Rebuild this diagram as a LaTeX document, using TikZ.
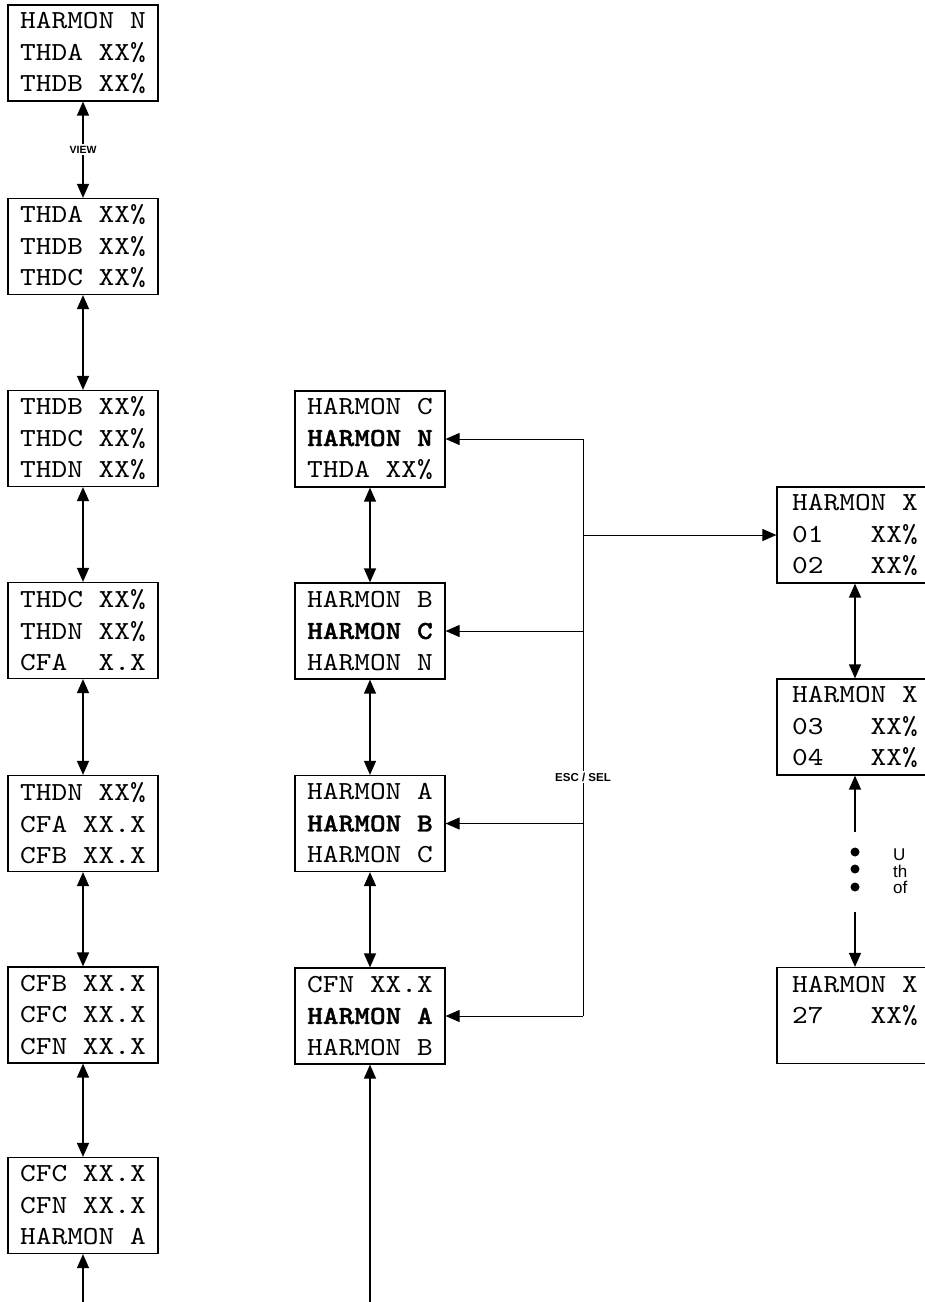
\documentclass[tikz,border=0pt]{standalone}
\usepackage{fontspec}
\usetikzlibrary{arrows.meta}
\newfontfamily\boxfont[Extension=.otf,UprightFont=lmmono10-regular,BoldFont=lmmonolt10-bold,BoldFeatures={FakeBold=1.2},FakeStretch=1.15]{lmmono10-regular}
\newfontfamily\lblfont{Liberation Sans}
\begin{document}
\begin{tikzpicture}[x=1pt,y=-1pt,
  box/.style={draw,line width=1.2pt,minimum width=150pt,minimum height=96pt,inner sep=0pt,align=center,
    font=\boxfont\fontsize{26}{31.5}\selectfont},
  rbox/.style={box,minimum width=156pt},
  arr/.style={-{Triangle[length=14pt,width=12pt]},line width=1.3pt},
  darr/.style={{Triangle[length=14pt,width=12pt]}-{Triangle[length=14pt,width=12pt]},line width=1.3pt},
  thin line/.style={line width=1pt},
  lbl/.style={fill=white,inner sep=2pt,font=\lblfont\bfseries\fontsize{10.5}{12}\selectfont},
  esclbl/.style={lbl,font=\lblfont\bfseries\fontsize{11.5}{13}\selectfont},
  note/.style={anchor=base west,inner sep=0pt,font=\lblfont\fontsize{17}{17}\selectfont},
  dot/.style={fill=black}]
\useasboundingbox (0,0) rectangle (925,1302);
\clip (0,0) rectangle (925,1302);
% left column
\node[box] (l1) at (83,53) {HARMON N\\THDA XX\%\\THDB XX\%};
\node[box] (l2) at (83,246.5) {THDA XX\%\\THDB XX\%\\THDC XX\%};
\node[box] (l3) at (83,438.5) {THDB XX\%\\THDC XX\%\\THDN XX\%};
\node[box] (l4) at (83,630.5) {THDC XX\%\\THDN XX\%\\CFA~~X.X};
\node[box] (l5) at (83,823.5) {THDN XX\%\\CFA XX.X\\CFB XX.X};
\node[box] (l6) at (83,1015) {CFB XX.X\\CFC XX.X\\CFN XX.X};
\node[box] (l7) at (83,1205.5) {CFC XX.X\\CFN XX.X\\HARMON A};
% middle column
\node[box] (m1) at (370,439) {HARMON C\\\textbf{HARMON N}\\THDA XX\%};
\node[box] (m2) at (370,631) {HARMON B\\\textbf{HARMON C}\\HARMON N};
\node[box] (m3) at (370,823.5) {HARMON A\\\textbf{HARMON B}\\HARMON C};
\node[box] (m4) at (370,1016) {CFN XX.X\\\textbf{HARMON A}\\HARMON B};
% right column
\node[rbox] (r1) at (855,535) {HARMON X\\01~~~XX\%\\02~~~XX\%};
\node[rbox] (r2) at (855,727) {HARMON X\\03~~~XX\%\\04~~~XX\%};
\node[rbox] (r3) at (855,1015.5) {HARMON X\\27~~~XX\%\\\mbox{}};
% left connectors
\draw[darr] (l1) -- node[lbl] (view) {VIEW} (l2);
\draw[darr] (l2) -- (l3);
\draw[darr] (l3) -- (l4);
\draw[darr] (l4) -- (l5);
\draw[darr] (l5) -- (l6);
\draw[darr] (l6) -- (l7);
\coordinate (lb) at (83,1302);
\draw[arr] (lb) -- (l7);
% middle connectors
\draw[darr] (m1) -- (m2);
\draw[darr] (m2) -- (m3);
\draw[darr] (m3) -- (m4);
\coordinate (mb) at (370,1302);
\draw[arr] (mb) -- (m4);
% ESC / SEL
\coordinate (e1) at (583,439);
\coordinate (e2) at (583,631);
\coordinate (e3) at (583,823.5);
\coordinate (e4) at (583,1016);
\coordinate (er) at (583,535);
\draw[thin line] (e1) -- node[esclbl,pos=0.586] (esc) {ESC / SEL} (e4);
\draw[arr,line width=1pt] (e1) -- (m1.east);
\draw[arr,line width=1pt] (e2) -- (m2.east);
\draw[arr,line width=1pt] (e3) -- (m3.east);
\draw[arr,line width=1pt] (e4) -- (m4.east);
\draw[arr,line width=1pt] (er) -- (r1.west);
% right connectors
\draw[darr] (r1) -- (r2);
\coordinate (d1) at (855,832);
\coordinate (d2) at (855,912);
\draw[arr] (d1) -- (r2.south);
\draw[arr] (d2) -- (r3.north);
\fill[dot] (855,852) circle (4.5);
\fill[dot] (855,869) circle (4.5);
\fill[dot] (855,887) circle (4.5);
\node[note] (n1) at (893,860) {U};
\node[note] (n2) at (893,877) {th};
\node[note] (n3) at (893,893) {of};
\end{tikzpicture}
\end{document}
